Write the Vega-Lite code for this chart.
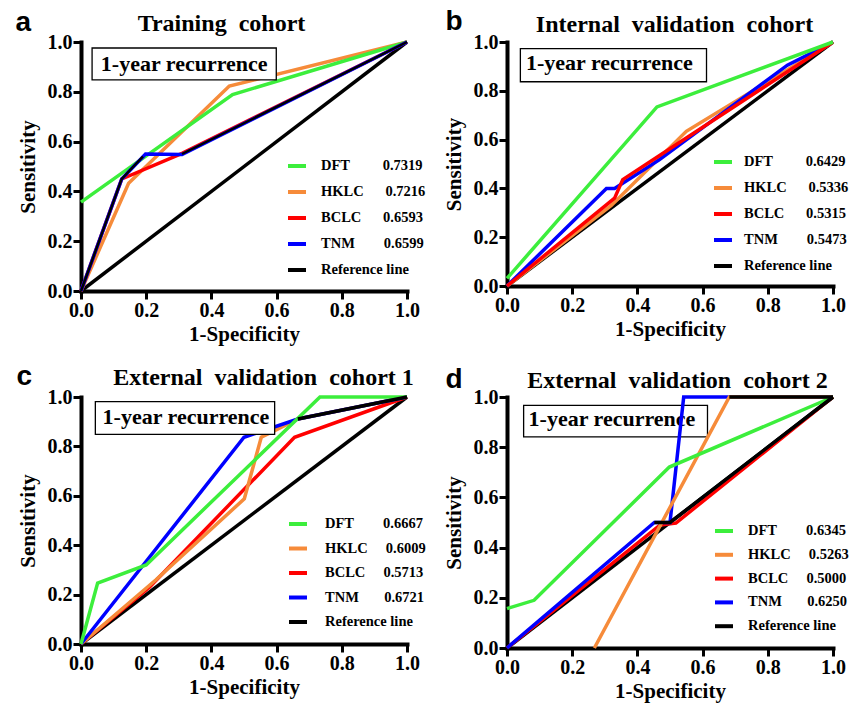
{
"$schema": "https://vega.github.io/schema/vega-lite/v6.json",
"background": "white",
"padding": {"left": 15, "top": 7, "right": 5, "bottom": 3},
"columns": 2,
"spacing": {"column": 17, "row": 18},
"datasets": {"roc": [
{"p":"a","s":"Reference line","o":0,"x":0,"y":0},{"p":"a","s":"Reference line","o":1,"x":1,"y":1},
{"p":"a","s":"HKLC","o":0,"x":0,"y":0},{"p":"a","s":"HKLC","o":1,"x":0.146,"y":0.433},{"p":"a","s":"HKLC","o":2,"x":0.455,"y":0.823},{"p":"a","s":"HKLC","o":3,"x":1,"y":1},
{"p":"a","s":"DFT","o":0,"x":0,"y":0.357},{"p":"a","s":"DFT","o":1,"x":0.465,"y":0.789},{"p":"a","s":"DFT","o":2,"x":1,"y":1},
{"p":"a","s":"BCLC","o":0,"x":0,"y":0},{"p":"a","s":"BCLC","o":1,"x":0.125,"y":0.45},{"p":"a","s":"BCLC","o":2,"x":0.31,"y":0.553},{"p":"a","s":"BCLC","o":3,"x":1,"y":1},
{"p":"a","s":"TNM","o":0,"x":0,"y":0},{"p":"a","s":"TNM","o":1,"x":0.125,"y":0.45},{"p":"a","s":"TNM","o":2,"x":0.198,"y":0.55},{"p":"a","s":"TNM","o":3,"x":0.31,"y":0.548},{"p":"a","s":"TNM","o":4,"x":1,"y":1},
{"p":"a","s":"extra1","o":0,"x":0,"y":0},{"p":"a","s":"extra1","o":1,"x":0.125,"y":0.45},{"p":"a","s":"extra1","o":2,"x":0.19,"y":0.54},
{"p":"a","s":"extra2","o":0,"x":0.31,"y":0.55},{"p":"a","s":"extra2","o":1,"x":1,"y":1},

{"p":"b","s":"Reference line","o":0,"x":0,"y":0},{"p":"b","s":"Reference line","o":1,"x":1,"y":1},
{"p":"b","s":"HKLC","o":0,"x":0,"y":0},{"p":"b","s":"HKLC","o":1,"x":0.32,"y":0.33},{"p":"b","s":"HKLC","o":2,"x":0.55,"y":0.634},{"p":"b","s":"HKLC","o":3,"x":1,"y":1},
{"p":"b","s":"TNM","o":0,"x":0,"y":0},{"p":"b","s":"TNM","o":1,"x":0.305,"y":0.40},{"p":"b","s":"TNM","o":2,"x":0.33,"y":0.40},{"p":"b","s":"TNM","o":3,"x":0.468,"y":0.518},{"p":"b","s":"TNM","o":4,"x":0.86,"y":0.905},{"p":"b","s":"TNM","o":5,"x":1,"y":1},
{"p":"b","s":"BCLC","o":0,"x":0,"y":0},{"p":"b","s":"BCLC","o":1,"x":0.33,"y":0.36},{"p":"b","s":"BCLC","o":2,"x":0.355,"y":0.436},{"p":"b","s":"BCLC","o":3,"x":0.468,"y":0.535},{"p":"b","s":"BCLC","o":4,"x":1,"y":1},
{"p":"b","s":"DFT","o":0,"x":0,"y":0.031},{"p":"b","s":"DFT","o":1,"x":0.46,"y":0.734},{"p":"b","s":"DFT","o":2,"x":1,"y":1},

{"p":"c","s":"Reference line","o":0,"x":0,"y":0},{"p":"c","s":"Reference line","o":1,"x":1,"y":1},
{"p":"c","s":"BCLC","o":0,"x":0,"y":0},{"p":"c","s":"BCLC","o":1,"x":0.21,"y":0.23},{"p":"c","s":"BCLC","o":2,"x":0.655,"y":0.837},{"p":"c","s":"BCLC","o":3,"x":1,"y":1},
{"p":"c","s":"HKLC","o":0,"x":0,"y":0},{"p":"c","s":"HKLC","o":1,"x":0.23,"y":0.26},{"p":"c","s":"HKLC","o":2,"x":0.501,"y":0.588},{"p":"c","s":"HKLC","o":3,"x":0.553,"y":0.837},{"p":"c","s":"HKLC","o":4,"x":0.594,"y":0.864},{"p":"c","s":"HKLC","o":5,"x":0.665,"y":0.911},{"p":"c","s":"HKLC","o":6,"x":1,"y":1},
{"p":"c","s":"TNM","o":0,"x":0,"y":0},{"p":"c","s":"TNM","o":1,"x":0.5,"y":0.837},{"p":"c","s":"TNM","o":2,"x":0.665,"y":0.911},{"p":"c","s":"TNM","o":3,"x":1,"y":1},
{"p":"c","s":"DFT","o":0,"x":0,"y":0},{"p":"c","s":"DFT","o":1,"x":0.051,"y":0.247},{"p":"c","s":"DFT","o":2,"x":0.2,"y":0.32},{"p":"c","s":"DFT","o":3,"x":0.733,"y":1},{"p":"c","s":"DFT","o":4,"x":1,"y":1},
{"p":"c","s":"extra1","o":0,"x":0.665,"y":0.911},{"p":"c","s":"extra1","o":1,"x":1,"y":1},

{"p":"d","s":"Reference line","o":0,"x":0,"y":0},{"p":"d","s":"Reference line","o":1,"x":1,"y":1},
{"p":"d","s":"BCLC","o":0,"x":0,"y":0},{"p":"d","s":"BCLC","o":1,"x":0.47,"y":0.49},{"p":"d","s":"BCLC","o":2,"x":0.518,"y":0.498},{"p":"d","s":"BCLC","o":3,"x":1,"y":1},
{"p":"d","s":"TNM","o":0,"x":0,"y":0},{"p":"d","s":"TNM","o":1,"x":0.452,"y":0.5},{"p":"d","s":"TNM","o":2,"x":0.5,"y":0.5},{"p":"d","s":"TNM","o":3,"x":0.542,"y":1},{"p":"d","s":"TNM","o":4,"x":1,"y":1},
{"p":"d","s":"HKLC","o":0,"x":0.268,"y":0},{"p":"d","s":"HKLC","o":1,"x":0.682,"y":1},{"p":"d","s":"HKLC","o":2,"x":1,"y":1},
{"p":"d","s":"DFT","o":0,"x":0,"y":0.157},{"p":"d","s":"DFT","o":1,"x":0.083,"y":0.19},{"p":"d","s":"DFT","o":2,"x":0.498,"y":0.721},{"p":"d","s":"DFT","o":3,"x":1,"y":1},
{"p":"d","s":"extra1","o":0,"x":0.452,"y":0.5},{"p":"d","s":"extra1","o":1,"x":0.5,"y":0.5},{"p":"d","s":"extra1","o":2,"x":1,"y":1},
{"p":"d","s":"extra2","o":0,"x":0.682,"y":1},{"p":"d","s":"extra2","o":1,"x":1,"y":1}
]},
"concat": [
{
 "width": 326, "height": 249,
 "data": {"name": "roc"},
 "transform": [{"filter": "datum.p === 'a'"}],
 "resolve": {"axis": {"x": "independent"}},
 "layer": [
  {
   "transform": [{"filter": "indexof(datum.s, 'extra') < 0"}],
   "mark": {"type": "line", "strokeWidth": 3.5},
   "encoding": {
    "x": {"field": "x", "type": "quantitative", "scale": {"domain": [0, 1], "nice": false}, "axis": {"orient": "bottom", "title": "1-Specificity", "values": [0, 0.2, 0.4, 0.6, 0.8, 1], "format": ".1f"}},
    "y": {"field": "y", "type": "quantitative", "scale": {"domain": [0, 1], "nice": false}, "axis": {"title": "Sensitivity", "values": [0, 0.2, 0.4, 0.6, 0.8, 1], "format": ".1f"}},
    "color": {"field": "s", "type": "nominal", "scale": {"domain": ["DFT", "HKLC", "BCLC", "TNM", "Reference line"], "range": ["#3CEE3C", "#F68B3A", "#FF0000", "#0000FF", "#000000"]},
     "legend": {"title": null, "orient": "none", "legendX": 205, "legendY": 113, "symbolType": "stroke", "symbolSize": 324, "symbolStrokeWidth": 4, "labelFont": "Liberation Serif", "labelFontWeight": "bold", "labelFontSize": 14.5, "labelColor": "black", "labelOffset": 13, "rowPadding": 7, "padding": 0,
      "labelExpr": "datum.label === 'DFT' ? 'DFT\u00a0\u00a0\u00a0\u00a0\u00a0\u00a0\u00a0\u00a0\u00a00.7319' : datum.label === 'HKLC' ? 'HKLC\u00a0\u00a0\u00a0\u00a0\u00a0\u00a00.7216' : datum.label === 'BCLC' ? 'BCLC\u00a0\u00a0\u00a0\u00a0\u00a0\u00a00.6593' : datum.label === 'TNM' ? 'TNM\u00a0\u00a0\u00a0\u00a0\u00a0\u00a0\u00a0\u00a00.6599' : datum.label"}},
    "order": {"field": "o", "type": "quantitative"}
   }
  },
  {
   "transform": [{"filter": "indexof(datum.s, 'extra') >= 0"}],
   "mark": {"type": "line", "strokeWidth": 2.4, "color": "black"},
   "encoding": {
    "x": {"field": "x", "type": "quantitative", "scale": {"domain": [0, 1], "nice": false}, "axis": null},
    "y": {"field": "y", "type": "quantitative", "scale": {"domain": [0, 1], "nice": false}, "axis": {"title": "Sensitivity", "values": [0, 0.2, 0.4, 0.6, 0.8, 1], "format": ".1f"}},
    "detail": {"field": "s"},
    "order": {"field": "o", "type": "quantitative"}
   }
  },
  {
   "data": {"values": [{}]},
   "mark": {"type": "rect", "fill": "white", "stroke": "black", "strokeWidth": 1.3},
   "encoding": {
    "x": {"datum": 0.034, "type": "quantitative", "scale": {"domain": [0, 1], "nice": false}, "axis": {"orient": "top", "title": "Training\u00a0\u00a0cohort", "labels": false, "ticks": false, "domain": false, "titleX": 140, "titleY": -12, "titleAlign": "center", "titleBaseline": "alphabetic", "titleFontSize": 24}},
    "x2": {"datum": 0.599},
    "y": {"datum": 0.976, "type": "quantitative", "scale": {"domain": [0, 1], "nice": false}, "axis": {"title": "Sensitivity", "values": [0, 0.2, 0.4, 0.6, 0.8, 1], "format": ".1f"}},
    "y2": {"datum": 0.848}
   }
  },
  {
   "data": {"values": [{"t": "1-year recurrence"}]},
   "mark": {"type": "text", "font": "Liberation Serif", "fontWeight": "bold", "fontSize": 22, "align": "center", "baseline": "alphabetic", "color": "black"},
   "encoding": {
    "x": {"datum": 0.3165, "type": "quantitative", "scale": {"domain": [0, 1], "nice": false}, "axis": {"orient": "top", "title": "a", "labels": false, "ticks": false, "domain": false, "titleX": -66, "titleY": -12, "titleAlign": "left", "titleBaseline": "alphabetic", "titleFont": "Liberation Sans", "titleFontSize": 28}},
    "y": {"datum": 0.885, "type": "quantitative", "scale": {"domain": [0, 1], "nice": false}, "axis": {"title": "Sensitivity", "values": [0, 0.2, 0.4, 0.6, 0.8, 1], "format": ".1f"}},
    "text": {"field": "t"}
   }
  }
 ]
},
{
 "width": 326, "height": 244,
 "data": {"name": "roc"},
 "transform": [{"filter": "datum.p === 'b'"}],
 "resolve": {"axis": {"x": "independent"}},
 "layer": [
  {
   "transform": [{"filter": "indexof(datum.s, 'extra') < 0"}],
   "mark": {"type": "line", "strokeWidth": 3.5},
   "encoding": {
    "x": {"field": "x", "type": "quantitative", "scale": {"domain": [0, 1], "nice": false}, "axis": {"orient": "bottom", "title": "1-Specificity", "values": [0, 0.2, 0.4, 0.6, 0.8, 1], "format": ".1f"}},
    "y": {"field": "y", "type": "quantitative", "scale": {"domain": [0, 1], "nice": false}, "axis": {"title": "Sensitivity", "values": [0, 0.2, 0.4, 0.6, 0.8, 1], "format": ".1f"}},
    "color": {"field": "s", "type": "nominal", "scale": {"domain": ["DFT", "HKLC", "BCLC", "TNM", "Reference line"], "range": ["#3CEE3C", "#F68B3A", "#FF0000", "#0000FF", "#000000"]},
     "legend": {"title": null, "orient": "none", "legendX": 205, "legendY": 109, "symbolType": "stroke", "symbolSize": 324, "symbolStrokeWidth": 4, "labelFont": "Liberation Serif", "labelFontWeight": "bold", "labelFontSize": 14.5, "labelColor": "black", "labelOffset": 10, "rowPadding": 7, "padding": 0,
      "labelExpr": "datum.label === 'DFT' ? 'DFT\u00a0\u00a0\u00a0\u00a0\u00a0\u00a0\u00a0\u00a0\u00a00.6429' : datum.label === 'HKLC' ? 'HKLC\u00a0\u00a0\u00a0\u00a0\u00a0\u00a00.5336' : datum.label === 'BCLC' ? 'BCLC\u00a0\u00a0\u00a0\u00a0\u00a0\u00a00.5315' : datum.label === 'TNM' ? 'TNM\u00a0\u00a0\u00a0\u00a0\u00a0\u00a0\u00a0\u00a00.5473' : datum.label"}},
    "order": {"field": "o", "type": "quantitative"}
   }
  },
  {
   "data": {"values": [{}]},
   "mark": {"type": "rect", "fill": "white", "stroke": "black", "strokeWidth": 1.3},
   "encoding": {
    "x": {"datum": 0.041, "type": "quantitative", "scale": {"domain": [0, 1], "nice": false}, "axis": {"orient": "top", "title": "Internal\u00a0\u00a0validation\u00a0\u00a0cohort", "labels": false, "ticks": false, "domain": false, "titleX": 167, "titleY": -11, "titleAlign": "center", "titleBaseline": "alphabetic", "titleFontSize": 24}},
    "x2": {"datum": 0.612},
    "y": {"datum": 0.973, "type": "quantitative", "scale": {"domain": [0, 1], "nice": false}, "axis": {"title": "Sensitivity", "values": [0, 0.2, 0.4, 0.6, 0.8, 1], "format": ".1f"}},
    "y2": {"datum": 0.837}
   }
  },
  {
   "data": {"values": [{"t": "1-year recurrence"}]},
   "mark": {"type": "text", "font": "Liberation Serif", "fontWeight": "bold", "fontSize": 22, "align": "center", "baseline": "alphabetic", "color": "black"},
   "encoding": {
    "x": {"datum": 0.314, "type": "quantitative", "scale": {"domain": [0, 1], "nice": false}, "axis": {"orient": "top", "title": "b", "labels": false, "ticks": false, "domain": false, "titleX": -62, "titleY": -13, "titleAlign": "left", "titleBaseline": "alphabetic", "titleFont": "Liberation Sans", "titleFontSize": 28}},
    "y": {"datum": 0.885, "type": "quantitative", "scale": {"domain": [0, 1], "nice": false}, "axis": {"title": "Sensitivity", "values": [0, 0.2, 0.4, 0.6, 0.8, 1], "format": ".1f"}},
    "text": {"field": "t"}
   }
  }
 ]
},
{
 "width": 326, "height": 247,
 "data": {"name": "roc"},
 "transform": [{"filter": "datum.p === 'c'"}],
 "resolve": {"axis": {"x": "independent"}},
 "layer": [
  {
   "transform": [{"filter": "indexof(datum.s, 'extra') < 0"}],
   "mark": {"type": "line", "strokeWidth": 3.5},
   "encoding": {
    "x": {"field": "x", "type": "quantitative", "scale": {"domain": [0, 1], "nice": false}, "axis": {"orient": "bottom", "title": "1-Specificity", "values": [0, 0.2, 0.4, 0.6, 0.8, 1], "format": ".1f"}},
    "y": {"field": "y", "type": "quantitative", "scale": {"domain": [0, 1], "nice": false}, "axis": {"title": "Sensitivity", "values": [0, 0.2, 0.4, 0.6, 0.8, 1], "format": ".1f"}},
    "color": {"field": "s", "type": "nominal", "scale": {"domain": ["DFT", "HKLC", "BCLC", "TNM", "Reference line"], "range": ["#3CEE3C", "#F68B3A", "#FF0000", "#0000FF", "#000000"]},
     "legend": {"title": null, "orient": "none", "legendX": 206, "legendY": 116, "symbolType": "stroke", "symbolSize": 324, "symbolStrokeWidth": 4, "labelFont": "Liberation Serif", "labelFontWeight": "bold", "labelFontSize": 14.5, "labelColor": "black", "labelOffset": 16, "rowPadding": 5.5, "padding": 0,
      "labelExpr": "datum.label === 'DFT' ? 'DFT\u00a0\u00a0\u00a0\u00a0\u00a0\u00a0\u00a0\u00a00.6667' : datum.label === 'HKLC' ? 'HKLC\u00a0\u00a0\u00a0\u00a0\u00a00.6009' : datum.label === 'BCLC' ? 'BCLC\u00a0\u00a0\u00a0\u00a0\u00a00.5713' : datum.label === 'TNM' ? 'TNM\u00a0\u00a0\u00a0\u00a0\u00a0\u00a0\u00a00.6721' : datum.label"}},
    "order": {"field": "o", "type": "quantitative"}
   }
  },
  {
   "transform": [{"filter": "indexof(datum.s, 'extra') >= 0"}],
   "mark": {"type": "line", "strokeWidth": 3.5, "color": "black"},
   "encoding": {
    "x": {"field": "x", "type": "quantitative", "scale": {"domain": [0, 1], "nice": false}, "axis": null},
    "y": {"field": "y", "type": "quantitative", "scale": {"domain": [0, 1], "nice": false}, "axis": {"title": "Sensitivity", "values": [0, 0.2, 0.4, 0.6, 0.8, 1], "format": ".1f"}},
    "detail": {"field": "s"},
    "order": {"field": "o", "type": "quantitative"}
   }
  },
  {
   "data": {"values": [{}]},
   "mark": {"type": "rect", "fill": "white", "stroke": "black", "strokeWidth": 1.3},
   "encoding": {
    "x": {"datum": 0.044, "type": "quantitative", "scale": {"domain": [0, 1], "nice": false}, "axis": {"orient": "top", "title": "External\u00a0\u00a0validation\u00a0\u00a0cohort 1", "labels": false, "ticks": false, "domain": false, "titleX": 182, "titleY": -13, "titleAlign": "center", "titleBaseline": "alphabetic", "titleFontSize": 24}},
    "x2": {"datum": 0.594},
    "y": {"datum": 0.981, "type": "quantitative", "scale": {"domain": [0, 1], "nice": false}, "axis": {"title": "Sensitivity", "values": [0, 0.2, 0.4, 0.6, 0.8, 1], "format": ".1f"}},
    "y2": {"datum": 0.849}
   }
  },
  {
   "data": {"values": [{"t": "1-year recurrence"}]},
   "mark": {"type": "text", "font": "Liberation Serif", "fontWeight": "bold", "fontSize": 22, "align": "center", "baseline": "alphabetic", "color": "black"},
   "encoding": {
    "x": {"datum": 0.322, "type": "quantitative", "scale": {"domain": [0, 1], "nice": false}, "axis": {"orient": "top", "title": "c", "labels": false, "ticks": false, "domain": false, "titleX": -65, "titleY": -13, "titleAlign": "left", "titleBaseline": "alphabetic", "titleFont": "Liberation Sans", "titleFontSize": 28}},
    "y": {"datum": 0.892, "type": "quantitative", "scale": {"domain": [0, 1], "nice": false}, "axis": {"title": "Sensitivity", "values": [0, 0.2, 0.4, 0.6, 0.8, 1], "format": ".1f"}},
    "text": {"field": "t"}
   }
  }
 ]
},
{
 "width": 326, "height": 251,
 "data": {"name": "roc"},
 "transform": [{"filter": "datum.p === 'd'"}],
 "resolve": {"axis": {"x": "independent"}},
 "layer": [
  {
   "data": {"values": [{}]},
   "mark": {"type": "rect", "fill": "white", "stroke": "black", "strokeWidth": 1.3},
   "encoding": {
    "x": {"datum": 0.051, "type": "quantitative", "scale": {"domain": [0, 1], "nice": false}, "axis": {"orient": "top", "title": "External\u00a0\u00a0validation\u00a0\u00a0cohort 2", "labels": false, "ticks": false, "domain": false, "titleX": 170, "titleY": -10, "titleAlign": "center", "titleBaseline": "alphabetic", "titleFontSize": 24}},
    "x2": {"datum": 0.615},
    "y": {"datum": 0.967, "type": "quantitative", "scale": {"domain": [0, 1], "nice": false}, "axis": {"title": "Sensitivity", "values": [0, 0.2, 0.4, 0.6, 0.8, 1], "format": ".1f"}},
    "y2": {"datum": 0.841}
   }
  },
  {
   "data": {"values": [{"t": "1-year recurrence"}]},
   "mark": {"type": "text", "font": "Liberation Serif", "fontWeight": "bold", "fontSize": 22, "align": "center", "baseline": "alphabetic", "color": "black"},
   "encoding": {
    "x": {"datum": 0.322, "type": "quantitative", "scale": {"domain": [0, 1], "nice": false}, "axis": {"orient": "top", "title": "d", "labels": false, "ticks": false, "domain": false, "titleX": -62, "titleY": -10, "titleAlign": "left", "titleBaseline": "alphabetic", "titleFont": "Liberation Sans", "titleFontSize": 28}},
    "y": {"datum": 0.883, "type": "quantitative", "scale": {"domain": [0, 1], "nice": false}, "axis": {"title": "Sensitivity", "values": [0, 0.2, 0.4, 0.6, 0.8, 1], "format": ".1f"}},
    "text": {"field": "t"}
   }
  },
  {
   "transform": [{"filter": "indexof(datum.s, 'extra') < 0"}],
   "mark": {"type": "line", "strokeWidth": 3.5},
   "encoding": {
    "x": {"field": "x", "type": "quantitative", "scale": {"domain": [0, 1], "nice": false}, "axis": {"orient": "bottom", "title": "1-Specificity", "values": [0, 0.2, 0.4, 0.6, 0.8, 1], "format": ".1f"}},
    "y": {"field": "y", "type": "quantitative", "scale": {"domain": [0, 1], "nice": false}, "axis": {"title": "Sensitivity", "values": [0, 0.2, 0.4, 0.6, 0.8, 1], "format": ".1f"}},
    "color": {"field": "s", "type": "nominal", "scale": {"domain": ["DFT", "HKLC", "BCLC", "TNM", "Reference line"], "range": ["#3CEE3C", "#F68B3A", "#FF0000", "#0000FF", "#000000"]},
     "legend": {"title": null, "orient": "none", "legendX": 206, "legendY": 123, "symbolType": "stroke", "symbolSize": 324, "symbolStrokeWidth": 4, "labelFont": "Liberation Serif", "labelFontWeight": "bold", "labelFontSize": 14.5, "labelColor": "black", "labelOffset": 13, "rowPadding": 4.8, "padding": 0,
      "labelExpr": "datum.label === 'DFT' ? 'DFT\u00a0\u00a0\u00a0\u00a0\u00a0\u00a0\u00a0\u00a00.6345' : datum.label === 'HKLC' ? 'HKLC\u00a0\u00a0\u00a0\u00a0\u00a00.5263' : datum.label === 'BCLC' ? 'BCLC\u00a0\u00a0\u00a0\u00a0\u00a00.5000' : datum.label === 'TNM' ? 'TNM\u00a0\u00a0\u00a0\u00a0\u00a0\u00a0\u00a00.6250' : datum.label"}},
    "order": {"field": "o", "type": "quantitative"}
   }
  },
  {
   "transform": [{"filter": "indexof(datum.s, 'extra') >= 0"}],
   "mark": {"type": "line", "strokeWidth": 3.5, "color": "black"},
   "encoding": {
    "x": {"field": "x", "type": "quantitative", "scale": {"domain": [0, 1], "nice": false}, "axis": null},
    "y": {"field": "y", "type": "quantitative", "scale": {"domain": [0, 1], "nice": false}, "axis": {"title": "Sensitivity", "values": [0, 0.2, 0.4, 0.6, 0.8, 1], "format": ".1f"}},
    "detail": {"field": "s"},
    "order": {"field": "o", "type": "quantitative"}
   }
  }
 ]
}
],
"resolve": {"scale": {"color": "independent"}, "legend": {"color": "independent"}},
"config": {
 "view": {"stroke": null},
 "font": "Liberation Serif",
 "axis": {"domainColor": "black", "domainWidth": 4, "domainCap": "square", "tickColor": "black", "tickWidth": 3, "tickSize": 8, "labelFont": "Liberation Serif", "labelFontWeight": "bold", "labelFontSize": 20, "labelColor": "black", "titleFont": "Liberation Serif", "titleFontWeight": "bold", "titleFontSize": 21, "titleColor": "black", "grid": false, "zindex": 1, "labelFlush": false, "labelOverlap": false},
 "axisX": {"labelPadding": 1, "titlePadding": 3},
 "axisY": {"labelPadding": 1, "titlePadding": 9}
}
}
